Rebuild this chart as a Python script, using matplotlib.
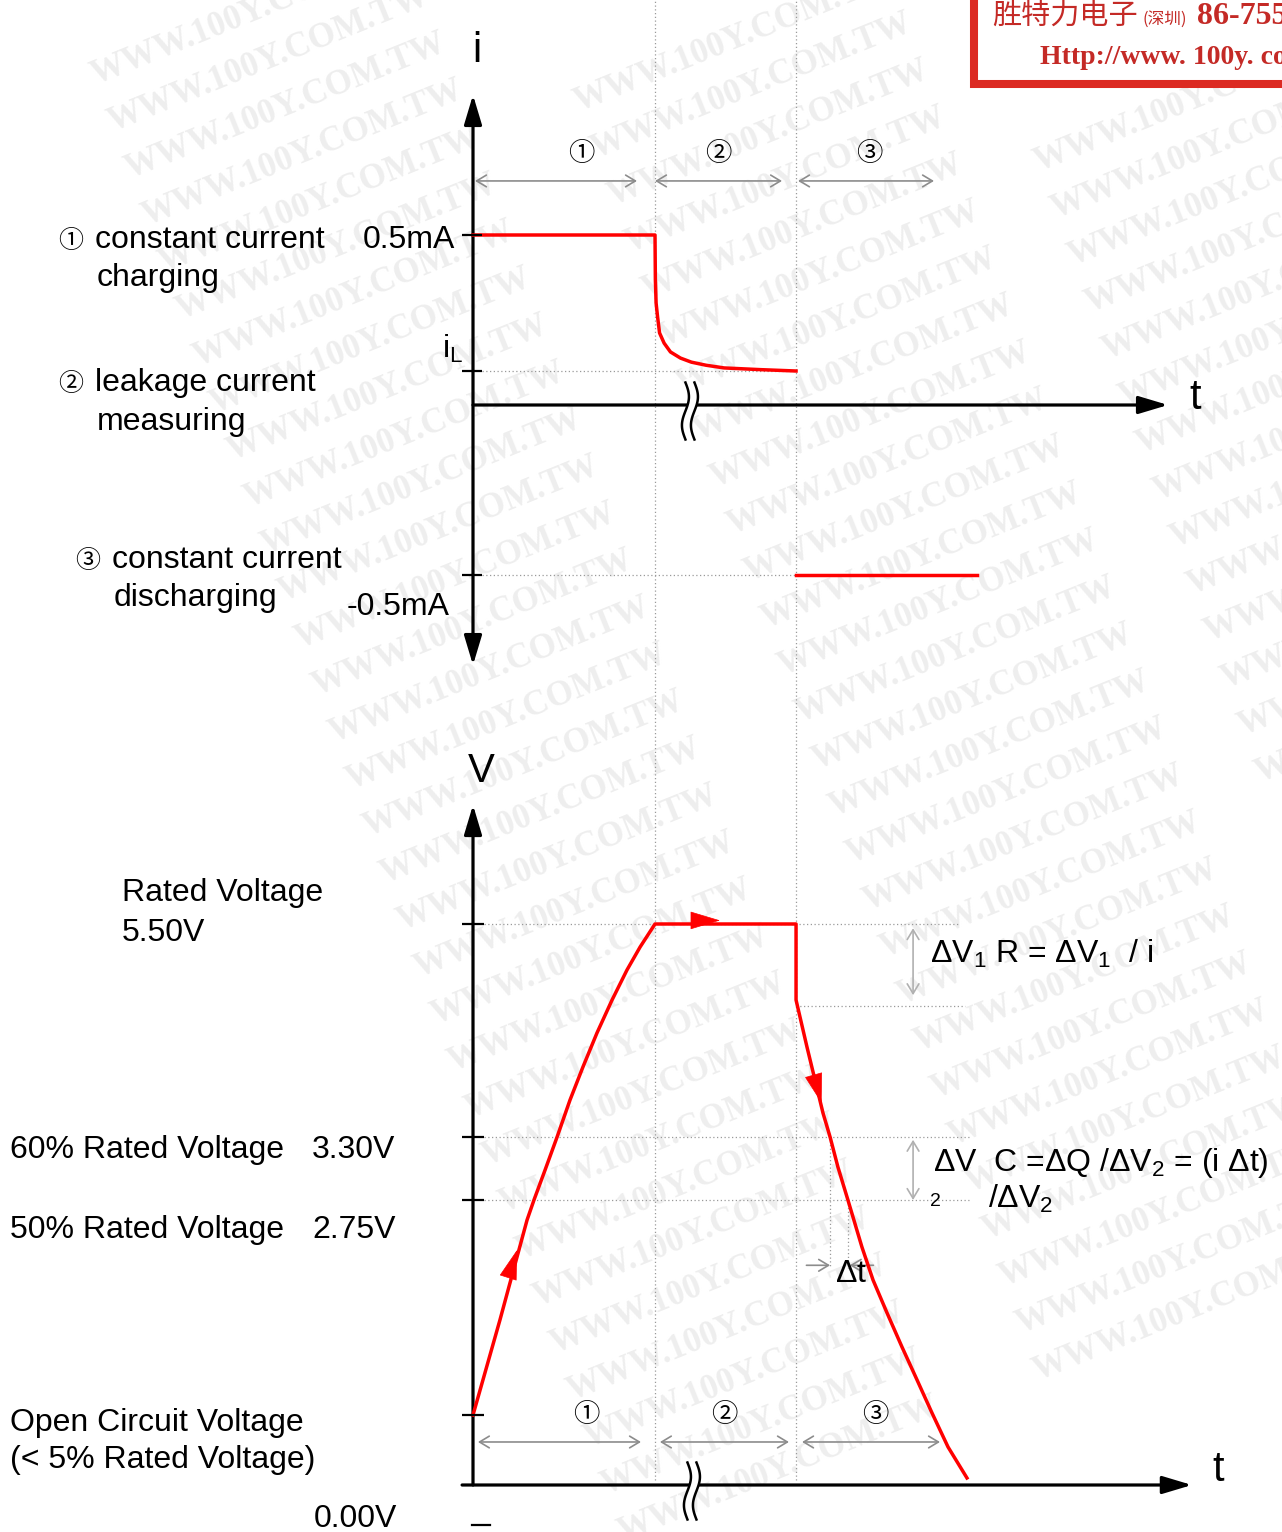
import numpy as np
import matplotlib
matplotlib.use('Agg')
import matplotlib.pyplot as plt
import matplotlib.transforms as mtransforms
from matplotlib.lines import Line2D
from matplotlib.patches import Rectangle

plt.rcParams['font.family'] = ['Liberation Sans', 'Noto Sans CJK SC', 'DejaVu Sans']
plt.rcParams['mathtext.fontset'] = 'custom'
plt.rcParams['mathtext.rm'] = 'Liberation Sans'
plt.rcParams['mathtext.it'] = 'Liberation Sans:italic'
plt.rcParams['mathtext.bf'] = 'Liberation Sans:bold'
plt.rcParams['mathtext.sf'] = 'Liberation Sans'

# ---------------- data ----------------
phase_labels = ['①', '②', '③']
phase_desc = [('constant current', 'charging'),
              ('leakage current', 'measuring'),
              ('constant current', 'discharging')]
t_phase = [0.0, 1.0, 1.775]          # phase start times (arbitrary units)
t_discharge_end = 2.77

# current (mA)
i_charge = 0.5
i_leak = 0.10
i_discharge = -0.5
t_decay = [1.0, 1.002, 1.006, 1.014, 1.025, 1.05, 1.085, 1.14, 1.2, 1.28, 1.38, 1.58, 1.775]
i_decay = [0.5, 0.37, 0.30, 0.26, 0.212, 0.182, 0.156, 0.138, 0.126, 0.117, 0.109, 0.104, 0.100]

# voltage (V)
v_rated = 5.5
v_60 = 3.3
v_50 = 2.75
v_open = 0.675
v_ir = 4.65
t_charge = [0.0, 0.148, 0.297, 0.335, 0.396, 0.462, 0.533, 0.604, 0.681, 0.764, 0.846, 0.918, 1.0]
v_charge = [0.675, 1.592, 2.557, 2.75, 3.012, 3.3, 3.682, 4.023, 4.374, 4.715, 5.025, 5.262, 5.5]
t_dis = [1.775, 1.835, 1.879, 1.923, 1.962, 2.005, 2.06, 2.137, 2.198, 2.275, 2.357,
         2.44, 2.522, 2.61, 2.714]
v_dis = [4.715, 4.23, 3.889, 3.548, 3.3, 3.038, 2.75, 2.296, 1.978, 1.66, 1.332,
         1.013, 0.695, 0.367, 0.068]

# ---------------- layout ----------------
W, H = 1282, 1532
X0, XS = 473, 182          # pixel of t=0, pixels per time unit
I0, IS = 405, 340          # pixel of i=0, pixels per mA
V0 = 1485                  # pixel of V=0
V_anchor = np.array([-20.0, 0.0, 2.75, 3.3, 5.5, 30.0])
H_anchor = np.array([-2040.0, 0.0, 285.0, 348.0, 561.0, 561.0 + 24.5 * 102])


def vfwd(v):
    return np.interp(v, V_anchor, H_anchor)


def vinv(h):
    return np.interp(h, H_anchor, V_anchor)


def fx(px):
    return px / W


def fy(py):
    return 1 - py / H


RED = '#ff0000'
GRAY = '#8c8c8c'
DOT = '#9a9a9a'
FS = 23
CIRC = ['Noto Sans CJK SC', 'DejaVu Sans']

fig = plt.figure(figsize=(W / 100, H / 100), dpi=100)
ax_i = fig.add_axes([0, 0, 1, 1])
ax_v = fig.add_axes([0, 0, 1, 1])
for ax in (ax_i, ax_v):
    ax.set_xlim(-X0 / XS, (W - X0) / XS)
    ax.axis('off')
ax_i.set_ylim((I0 - H) / IS, I0 / IS)
ax_v.set_yscale('function', functions=(vfwd, vinv))
ax_v.set_ylim(vinv(V0 - H), vinv(V0))

# ---------------- watermark ----------------
wm_cols = [(252, 13, 32), (735, 40, 28), (1195, 100, 14)]
for cx, cy, n in wm_cols:
    for k in range(n):
        fig.text(fx(cx + 17.0 * k), fy(cy + 47 * k), 'WWW.100Y.COM.TW', rotation=22,
                 ha='center', va='center', fontsize=25, fontweight='bold',
                 family='Liberation Serif', color='#eeeeee', zorder=-1)

# ---------------- helpers ----------------
ident = mtransforms.IdentityTransform()


def axis_arrow(ax, xy, xytext, both=False, lw=2.3):
    style = '<|-|>' if both else '-|>'
    ax.annotate('', xy=xy, xytext=xytext,
                arrowprops=dict(arrowstyle=style + ',head_length=1.0,head_width=0.3',
                                mutation_scale=18, lw=lw, color='black',
                                shrinkA=0, shrinkB=0), zorder=4)


def span_arrow(ax, t0, t1, y, color=GRAY):
    ax.annotate('', xy=(t1, y), xytext=(t0, y),
                arrowprops=dict(arrowstyle='<->,head_length=0.5,head_width=0.3',
                                mutation_scale=14, lw=1.2, color=color,
                                shrinkA=0, shrinkB=0))


def break_mark(ax, t, val):
    x0, y0 = ax.transData.transform((t, val))
    s = np.linspace(0, 1, 60)
    yy = y0 - 6 + (0.5 - s) * 57
    base = 3.5 * np.sin(2 * np.pi * s)
    fig.add_artist(Line2D(x0 + base, yy, color='white', lw=6.5, transform=ident, zorder=5))
    for dx in (-4.5, 4.5):
        fig.add_artist(Line2D(x0 + dx + base, yy, color='black', lw=1.8,
                              transform=ident, zorder=6))


def red_head(ax, tip, tail):
    ax.annotate('', xy=tip, xytext=tail,
                arrowprops=dict(arrowstyle='-|>,head_length=1.0,head_width=0.3',
                                mutation_scale=20, lw=0.5, color=RED,
                                shrinkA=0, shrinkB=0), zorder=6)


dotted = dict(color=DOT, lw=0.9, ls=(0, (1, 2)))

# vertical phase separators (through both plots)
for tb in t_phase[1:]:
    ax_i.axvline(tb, ymin=fy(1480), ymax=1.0, **dotted)

# ================= current plot =================
axis_arrow(ax_i, (0, 0.912), (0, -0.765), both=True)
axis_arrow(ax_i, (3.819, 0), (0, 0))
break_mark(ax_i, 1.192, 0)

for lvl in [i_charge, i_leak, i_discharge]:
    ax_i.plot([-0.06, 0.05], [lvl, lvl], color='black', lw=1.6, zorder=5,
              solid_capstyle='butt')
ax_i.plot([0.05, t_phase[2]], [i_leak, i_leak], **dotted)
ax_i.plot([0.05, t_phase[2]], [i_discharge, i_discharge], **dotted)

ax_i.plot([t_phase[0]] + t_decay, [i_charge] + i_decay,
          color=RED, lw=2.5, zorder=4)
ax_i.plot([t_phase[2], t_discharge_end], [i_discharge, i_discharge],
          color=RED, lw=2.5, zorder=4)

for (a, b), tc, lab in zip([(0.011, 0.901), (1.0, 1.698), (1.786, 2.533)],
                           [0.593, 1.346, 2.176], phase_labels):
    span_arrow(ax_i, a, b, 0.659)
    ax_i.text(tc, 0.74, lab, ha='center', va='center', fontsize=19, family=CIRC)

fig.text(fx(477), fy(51), 'i', ha='center', va='center', fontsize=30)
fig.text(fx(1195), fy(398), 't', ha='center', va='center', fontsize=30)
fig.text(fx(455), fy(248), '0.5mA', ha='right', va='baseline', fontsize=FS)
fig.text(fx(463), fy(349), r'$\mathrm{i}_\mathrm{L}$', ha='right', va='center', fontsize=FS)
fig.text(fx(450), fy(615), '-0.5mA', ha='right', va='baseline', fontsize=FS)

for (xc, xt, yb1, yb2), lab, (l1, l2) in zip(
        [(58, 95, 248, 286), (58, 95, 391, 430), (75, 112, 568, 606)],
        phase_labels, phase_desc):
    fig.text(fx(xc), fy(yb1), lab, va='baseline', fontsize=18, family=CIRC)
    fig.text(fx(xt), fy(yb1), l1, va='baseline', fontsize=FS)
    fig.text(fx(xt + 2), fy(yb2), l2, va='baseline', fontsize=FS)

# ================= voltage plot =================
axis_arrow(ax_v, (0, 6.667), (0, 0))
axis_arrow(ax_v, (3.95, 0), (-0.06, 0))
break_mark(ax_v, 1.203, 0)

for lvl in [v_rated, v_60, v_50, v_open]:
    ax_v.plot([-0.06, 0.06], [lvl, lvl], color='black', lw=1.6, zorder=5,
              solid_capstyle='butt')
ax_v.plot([0.06, 2.676], [v_rated, v_rated], **dotted)
ax_v.plot([t_phase[2], 2.703], [v_ir, v_ir], **dotted)
ax_v.plot([0.06, 2.73], [v_60, v_60], **dotted)
ax_v.plot([0.06, 2.73], [v_50, v_50], **dotted)

# dt construction
v_dt = 2.12
v_dt_end = 2.094
t_a, t_b = t_dis[4], t_dis[6]
ax_v.plot([t_a, t_a], [v_60, v_dt_end], **dotted)
ax_v.plot([t_b, t_b], [v_50, v_dt_end], **dotted)
ax_v.annotate('', xy=(t_a, v_dt), xytext=(t_a - 0.13, v_dt),
              arrowprops=dict(arrowstyle='->,head_length=0.5,head_width=0.3',
                              mutation_scale=14, lw=1.2, color=GRAY, shrinkA=0, shrinkB=0))
ax_v.annotate('', xy=(t_b + 0.01, v_dt), xytext=(t_b + 0.14, v_dt),
              arrowprops=dict(arrowstyle='->,head_length=0.5,head_width=0.3',
                              mutation_scale=14, lw=1.2, color=GRAY, shrinkA=0, shrinkB=0))

# delta V arrows
ax_v.annotate('', xy=(2.418, v_ir), xytext=(2.418, v_rated),
              arrowprops=dict(arrowstyle='<->,head_length=0.5,head_width=0.3',
                              mutation_scale=14, lw=1.2, color='#b0b0b0', shrinkA=3, shrinkB=8))
ax_v.annotate('', xy=(2.418, v_50), xytext=(2.418, v_60),
              arrowprops=dict(arrowstyle='<->,head_length=0.5,head_width=0.3',
                              mutation_scale=14, lw=1.2, color='#b0b0b0', shrinkA=2, shrinkB=0))

t_v = t_charge + [t_phase[2]] + t_dis
v_v = v_charge + [v_rated] + v_dis
ax_v.plot(t_v, v_v, color=RED, lw=2.5, zorder=4, solid_joinstyle='round')
red_head(ax_v, (0.242, 2.268), (0.198, 2.026))
red_head(ax_v, (1.357, 5.535), (1.30, 5.535))
red_head(ax_v, (1.915, 3.651), (1.879, 3.889))

for (a, b), tc, lab in zip([(0.027, 0.923), (1.027, 1.736), (1.808, 2.566)],
                           [0.621, 1.379, 2.209], phase_labels):
    span_arrow(ax_v, a, b, 0.415)
    ax_v.text(tc, 0.685, lab, ha='center', va='center', fontsize=19, family=CIRC)

fig.text(fx(481), fy(771), 'V', ha='center', va='center', fontsize=29)
fig.text(fx(1218), fy(1470), 't', ha='center', va='center', fontsize=30)

fig.text(fx(122), fy(901), 'Rated Voltage', va='baseline', fontsize=FS)
fig.text(fx(122), fy(941), '5.50V', va='baseline', fontsize=FS)
fig.text(fx(10), fy(1158), '60% Rated Voltage', va='baseline', fontsize=FS)
fig.text(fx(312), fy(1158), '3.30V', va='baseline', fontsize=FS)
fig.text(fx(10), fy(1238), '50% Rated Voltage', va='baseline', fontsize=FS)
fig.text(fx(312), fy(1238), '2.75V', va='baseline', fontsize=FS)
fig.text(fx(10), fy(1431), 'Open Circuit Voltage', va='baseline', fontsize=FS)
fig.text(fx(10), fy(1468), '(< 5% Rated Voltage)', va='baseline', fontsize=FS)
fig.text(fx(397), fy(1527), '0.00V', ha='right', va='baseline', fontsize=FS)
fig.add_artist(Line2D([fx(472), fx(490)], [fy(1525), fy(1525)], color='black', lw=1.6,
                      transform=fig.transFigure))

fig.text(fx(930), fy(963), r'$\Delta\mathrm{V}_1$ R = $\Delta\mathrm{V}_1$  / i',
         va='baseline', fontsize=FS)
fig.text(fx(933), fy(1171), r'$\Delta$V  C =$\Delta$Q /$\Delta\mathrm{V}_2$ = (i $\Delta$t)',
         va='baseline', fontsize=FS)
fig.text(fx(930), fy(1206), '2', va='baseline', fontsize=14)
fig.text(fx(988), fy(1208), r'/$\Delta\mathrm{V}_2$', va='baseline', fontsize=FS)
fig.text(fx(851), fy(1282), r'$\Delta$t', ha='center', va='baseline', fontsize=FS)

# ---------------- logo box ----------------
fig.add_artist(Rectangle((fx(974), fy(84)), 0.5, 0.2, transform=fig.transFigure,
                         facecolor='white', edgecolor='#dc2a22', lw=5.8, zorder=8))
LOGO = '#c42a26'
fig.text(fx(992), fy(17), '胜特力电子', va='center', fontsize=21, color=LOGO,
         family=['Noto Sans CJK SC'], zorder=9)
fig.text(fx(1142), fy(19), '(深圳)', va='center', fontsize=12, color=LOGO,
         family=['Noto Sans CJK SC'], zorder=9)
fig.text(fx(1197), fy(17), '86-755', va='center', fontsize=23, color=LOGO,
         family='Liberation Serif', fontweight='bold', zorder=9)
fig.text(fx(1040), fy(57), 'Http://www. 100y. com', va='center', fontsize=20, color=LOGO,
         family='Liberation Serif', fontweight='bold', zorder=9)

fig.savefig('out.png', dpi=100)
